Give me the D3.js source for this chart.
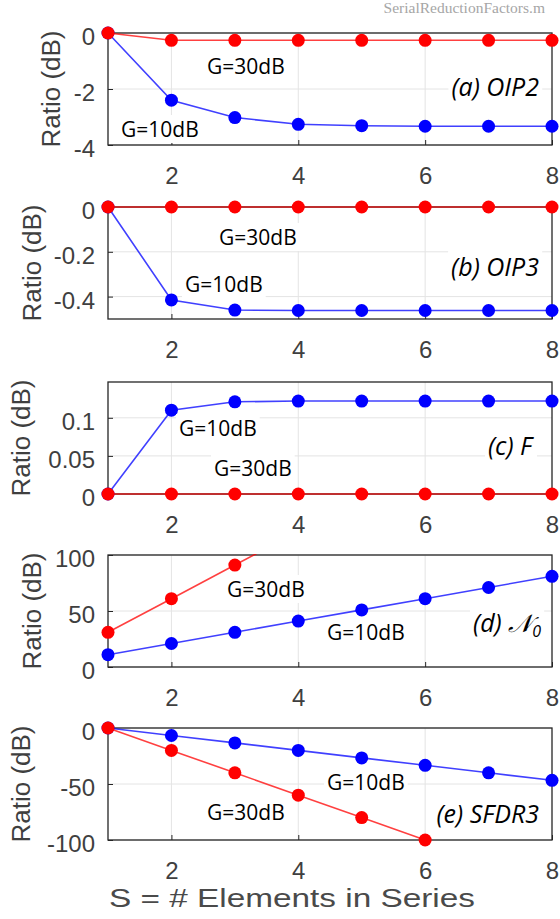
<!DOCTYPE html>
<html lang="en">
<head>
<meta charset="UTF-8">
<title>Serial reduction factors</title>
<script src="https://d3js.org/d3.v7.min.js"></script>
<style>
  body { margin: 0; background: #ffffff; }
  svg { display: block; }
</style>
</head>
<body>
<script>
  // number of elements in series
  const S = [1, 2, 3, 4, 5, 6, 7, 8];
  const xTicks = [2, 4, 6, 8];

  // (a) OIP2
  const oip2G10 = [0, -2.40, -3.02, -3.26, -3.31, -3.33, -3.33, -3.33];
  const oip2G30 = [0, -0.26, -0.26, -0.26, -0.26, -0.26, -0.26, -0.26];
  const oip2Ticks = [-4, -2, 0];
  // (b) OIP3
  const oip3G10 = [0, -0.415, -0.46, -0.462, -0.462, -0.462, -0.462, -0.462];
  const oip3G30 = [0, 0, 0, 0, 0, 0, 0, 0];
  const oip3Ticks = [-0.4, -0.2, 0];
  // (c) F
  const fG10 = [0, 0.110, 0.121, 0.122, 0.122, 0.122, 0.122, 0.122];
  const fG30 = [0, 0, 0, 0, 0, 0, 0, 0];
  const fTicks = [0, 0.05, 0.1];
  // (d) N0
  const n0G10 = [11, 21, 31, 41, 51, 61, 71, 81];
  const n0G30 = [31, 61, 91, 121];
  const n0Ticks = [0, 50, 100];
  // (e) SFDR3
  const sfdrG10 = [0, -6.7, -13.3, -20, -26.7, -33.3, -40, -46.7];
  const sfdrG30 = [0, -20, -40, -60, -80, -100];
  const sfdrTicks = [-100, -50, 0];

  const width = 560, height = 919;
  const left = 108, right = 552, panelHeight = 112;
  const panelTops = [33, 207, 382, 555, 728];

  const panels = [
    { title: "(a) OIP2", domain: [-4, 0], ticks: oip2Ticks, g10: oip2G10, g30: oip2G30, labelX: 60,
      pos: { g30: [207, 41], g10: [121, 104], title: [539, 63] } },
    { title: "(b) OIP3", domain: [-0.5, 0], ticks: oip3Ticks, g10: oip3G10, g30: oip3G30, labelX: 41,
      pos: { g30: [219, 38], g10: [185, 85], title: [539, 69] } },
    { title: "(c) F", domain: [0, 0.147], ticks: fTicks, g10: fG10, g30: fG30, labelX: 30,
      pos: { g10: [179, 54], g30: [214, 94], title: [532, 73] } },
    { title: "N0", domain: [0, 100], ticks: n0Ticks, g10: n0G10, g30: n0G30, labelX: 41,
      pos: { g30: [227, 42], g10: [327, 85], title: [541, 77] } },
    { title: "(e) SFDR3", domain: [-100, 0], ticks: sfdrTicks, g10: sfdrG10, g30: sfdrG30, labelX: 30,
      pos: { g10: [327, 62], g30: [207, 92], title: [539, 95] } }
  ];

  const svg = d3.select("body").append("svg")
      .attr("width", width)
      .attr("height", height)
      .style("font-family", "'Liberation Sans', Arial, sans-serif");

  const x = d3.scaleLinear().domain([1, 8]).range([left, right]);

  svg.append("text")
      .attr("x", 545).attr("y", 13)
      .attr("text-anchor", "end")
      .attr("font-family", "'Liberation Serif', 'DejaVu Serif', serif")
      .attr("font-size", 15.5)
      .attr("fill", "#a6a6a6")
      .text("SerialReductionFactors.m");

  panels.forEach((p, i) => {
    const top = panelTops[i], bottom = top + panelHeight;
    const y = d3.scaleLinear().domain(p.domain).range([bottom, top]);
    const g = svg.append("g");

    // grid
    g.append("g").selectAll("line")
      .data(xTicks.filter(t => t < 8))
      .join("line")
        .attr("x1", d => x(d)).attr("x2", d => x(d))
        .attr("y1", top).attr("y2", bottom)
        .attr("stroke", "#e4e4e4");
    g.append("g").selectAll("line")
      .data(p.ticks)
      .join("line")
        .attr("x1", left).attr("x2", right)
        .attr("y1", d => y(d)).attr("y2", d => y(d))
        .attr("stroke", "#e4e4e4");

    // axes
    const yAxis = g.append("g")
        .attr("transform", `translate(${left},0)`)
        .call(d3.axisLeft(y).tickValues(p.ticks).tickFormat(d => String(d))
          .tickSizeInner(-5).tickSizeOuter(0).tickPadding(13));
    const xAxis = g.append("g")
        .attr("transform", `translate(0,${bottom})`)
        .call(d3.axisBottom(x).tickValues(xTicks).tickFormat(d => String(d))
          .tickSizeInner(-5).tickSizeOuter(0).tickPadding(22));
    [yAxis, xAxis].forEach(a => {
      a.select(".domain").remove();
      a.selectAll("line").attr("stroke", "#262626");
      a.selectAll("text")
        .attr("font-family", "'Liberation Sans', Arial, sans-serif")
        .attr("font-size", 24)
        .attr("fill", "#3f3f3f");
    });
    yAxis.selectAll("text").attr("y", 4);

    g.append("rect")
        .attr("x", left).attr("y", top)
        .attr("width", right - left).attr("height", panelHeight)
        .attr("fill", "none")
        .attr("stroke", "#262626")
        .attr("stroke-width", 1.3);

    // y label
    g.append("text")
        .attr("transform", `translate(${p.labelX},${(top + bottom) / 2}) rotate(-90)`)
        .attr("text-anchor", "middle")
        .attr("font-size", 26)
        .attr("fill", "#3f3f3f")
        .text("Ratio (dB)");

    // series
    const clipId = `clip${i}`;
    svg.append("clipPath").attr("id", clipId)
      .append("rect")
        .attr("x", left - 10).attr("y", top - 1)
        .attr("width", right - left + 20).attr("height", panelHeight + 2);

    const line = d3.line().x((d, j) => x(S[j])).y(d => y(d));
    const series = [
      { values: p.g10, color: "#0000ff" },
      { values: p.g30, color: "#ff0000" }
    ];
    series.forEach(s => {
      g.append("path")
          .attr("clip-path", `url(#${clipId})`)
          .attr("d", line(s.values))
          .attr("fill", "none")
          .attr("stroke", s.color)
          .attr("stroke-opacity", 0.75)
          .attr("stroke-width", 1.6);
      g.append("g").selectAll("circle")
        .data(s.values.map((v, j) => ({ s: S[j], v }))
          .filter(d => d.v >= p.domain[0] && d.v <= p.domain[1]))
        .join("circle")
          .attr("cx", d => x(d.s))
          .attr("cy", d => y(d.v))
          .attr("r", 6.5)
          .attr("fill", s.color);
    });

    // annotations with white boxes
    const note = (pos, build) => {
      const ng = g.append("g");
      const t = ng.append("text")
          .attr("x", pos[0]).attr("y", top + pos[1])
          .attr("font-family", "'Open Sans', 'Noto Sans', sans-serif")
          .attr("fill", "#000");
      build(t);
      const b = t.node().getBBox();
      ng.insert("rect", "text")
          .attr("x", b.x - 3).attr("y", b.y)
          .attr("width", b.width + 6).attr("height", b.height)
          .attr("fill", "#fff");
    };
    note(p.pos.g30, t => t.attr("font-size", 21).text("G=30dB"));
    note(p.pos.g10, t => t.attr("font-size", 21).text("G=10dB"));
    note(p.pos.title, t => {
      t.attr("text-anchor", "end").attr("font-size", 25).attr("font-style", "italic");
      if (p.title === "N0") {
        t.append("tspan").text("(d) ");
        t.append("tspan").attr("font-family", "'DejaVu Serif', serif").text("𝒩");
        t.append("tspan").attr("font-size", 16).attr("dy", 5).text("0");
      } else {
        t.text(p.title);
      }
    });
  });

  svg.append("text")
      .attr("x", 292).attr("y", 907)
      .attr("text-anchor", "middle")
      .attr("font-size", 25)
      .attr("textLength", 366)
      .attr("lengthAdjust", "spacingAndGlyphs")
      .attr("fill", "#4a4a4a")
      .text("S = # Elements in Series");
</script>
</body>
</html>
